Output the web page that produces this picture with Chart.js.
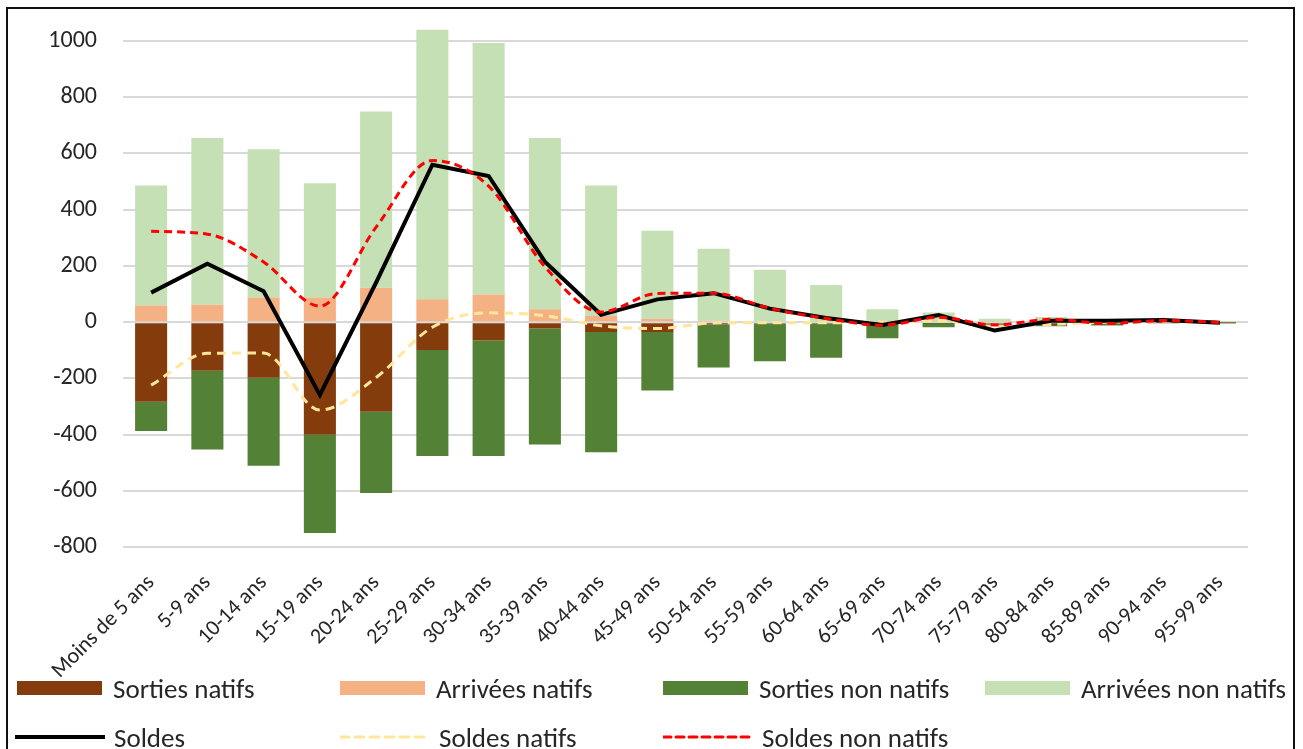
<!DOCTYPE html>
<html>
<head>
<meta charset="utf-8">
<script src="https://cdn.jsdelivr.net/npm/chart.js@4.4.1/dist/chart.umd.min.js"></script>
<style>
  html, body { margin: 0; padding: 0; background: #fff; }
  #wrap { position: relative; width: 1303px; height: 749px; overflow: hidden; font-family: Carlito, Lato, sans-serif; color: #262626; }
  #frame { position: absolute; left: 6px; top: 7px; width: 1289px; height: 800px; border: 2px solid #111; box-sizing: border-box; pointer-events: none; }
  .leg { position: absolute; display: flex; align-items: center; font-size: 27px; height: 30px; white-space: nowrap; }
  .leg .box { width: 85px; height: 14px; margin-right: 11px; }
  .leg svg { margin-right: 9px; }
</style>
</head>
<body>
<div id="wrap">
  <canvas id="myChart" width="1303" height="749"></canvas>
  <div id="legend"></div>
  <div id="frame"></div>
</div>
<script>
// Data
const categories = ["Moins de 5 ans", "5-9 ans", "10-14 ans", "15-19 ans", "20-24 ans", "25-29 ans",
  "30-34 ans", "35-39 ans", "40-44 ans", "45-49 ans", "50-54 ans", "55-59 ans", "60-64 ans",
  "65-69 ans", "70-74 ans", "75-79 ans", "80-84 ans", "85-89 ans", "90-94 ans", "95-99 ans"];

const sortiesNatifs = [-283, -173, -198, -401, -319, -99, -65, -23, -35, -35, -8, -5, -4, -2, -3, -5, -10, -2, -1, -1];
const arriveesNatifs = [59, 62, 88, 88, 122, 81, 98, 46, 22, 12, 5, 3, 2, 2, 2, 2, 3, 1, 1, 0];
const sortiesNonNatifs = [-104, -280, -313, -349, -289, -377, -411, -412, -428, -208, -153, -134, -123, -55, -15, -5, -5, -10, -2, -3];
const arriveesNonNatifs = [427, 593, 527, 406, 627, 959, 895, 609, 464, 313, 256, 183, 130, 44, 32, 10, 15, 5, 8, 2];

const soldes = [105, 208, 110, -259, 141, 560, 520, 215, 26, 81, 103, 48, 15, -10, 25, -30, 5, 5, 8, -2];
const soldesNatifs = [-224, -111, -110, -313, -197, -18, 33, 23, -13, -23, -3, -2, -2, 0, 5, -15, -8, 0, 2, 0];
const soldesNonNatifs = [323, 313, 214, 57, 338, 575, 484, 197, 36, 102, 103, 49, 13, -11, 17, -10, 10, -5, 6, -1];

const yTicks = [-800, -600, -400, -200, 0, 200, 400, 600, 800, 1000];

const colors = {
  sortiesNatifs: "#843C0C",
  arriveesNatifs: "#F4B183",
  sortiesNonNatifs: "#538135",
  arriveesNonNatifs: "#C5E0B4",
  soldes: "#000000",
  soldesNatifs: "#FFE699",
  soldesNonNatifs: "#FF0000"
};

const font = "Carlito, Lato, sans-serif";

function barSet(label, data, color) {
  return {
    type: "bar", label: label, data: data, backgroundColor: color,
    stack: "bars", order: 3, barPercentage: 0.57, categoryPercentage: 1
  };
}

function lineSet(label, data, color, width, dash, smooth, order) {
  return {
    type: "line", label: label, data: data, borderColor: color, borderWidth: width,
    borderDash: dash, tension: smooth ? 0.4 : 0,
    cubicInterpolationMode: smooth ? "monotone" : "default",
    pointRadius: 0, fill: false,
    stack: "l" + label, order: order, borderCapStyle: "butt"
  };
}

const chartCanvas = document.getElementById("myChart");

window.myChart = new Chart(chartCanvas, {
  data: {
    labels: categories,
    datasets: [
      barSet("Sorties natifs", sortiesNatifs, colors.sortiesNatifs),
      barSet("Arrivées natifs", arriveesNatifs, colors.arriveesNatifs),
      barSet("Sorties non natifs", sortiesNonNatifs, colors.sortiesNonNatifs),
      barSet("Arrivées non natifs", arriveesNonNatifs, colors.arriveesNonNatifs),
      lineSet("Soldes", soldes, colors.soldes, 4, [], false, 1),
      lineSet("Soldes natifs", soldesNatifs, colors.soldesNatifs, 3, [9, 6], true, 2),
      lineSet("Soldes non natifs", soldesNonNatifs, colors.soldesNonNatifs, 3, [8, 5], true, 0)
    ]
  },
  options: {
    responsive: false,
    animation: false,
    layout: { padding: { top: 27, left: 0, right: 55, bottom: 62 } },
    plugins: { legend: { display: false }, tooltip: { enabled: false } },
    scales: {
      x: {
        stacked: true,
        grid: { display: false },
        border: { display: false },
        ticks: {
          font: { family: font, size: 22 }, color: "#262626",
          minRotation: 45, maxRotation: 45, padding: 15, autoSkip: false
        },
        afterFit: (s) => { s.height = 140; }
      },
      y: {
        stacked: true,
        min: -800, max: 1050,
        grid: { color: "#D9D9D9", lineWidth: 2, drawTicks: false },
        border: { display: false },
        ticks: {
          font: { family: font, size: 24 }, color: "#262626", padding: 26,
          callback: (v) => String(v)
        },
        afterBuildTicks: (axis) => { axis.ticks = yTicks.map(v => ({ value: v })); },
        // tick padding would otherwise push the plot area down
        afterFit: (s) => { s.width = 123; s.paddingTop = 0; s.paddingBottom = 0; }
      }
    }
  }
});

// Legend drawn as HTML, in the reference's grid
const legendItems = [
  { label: "Sorties natifs", kind: "box", color: colors.sortiesNatifs, x: 17, y: 673 },
  { label: "Arrivées natifs", kind: "box", color: colors.arriveesNatifs, x: 340, y: 673 },
  { label: "Sorties non natifs", kind: "box", color: colors.sortiesNonNatifs, x: 663, y: 673 },
  { label: "Arrivées non natifs", kind: "box", color: colors.arriveesNonNatifs, x: 985, y: 673 },
  { label: "Soldes", kind: "line", color: colors.soldes, dash: "", width: 4, x: 15, y: 722 },
  { label: "Soldes natifs", kind: "line", color: colors.soldesNatifs, dash: "9 6", width: 3, x: 340, y: 722 },
  { label: "Soldes non natifs", kind: "line", color: colors.soldesNonNatifs, dash: "8 5", width: 3, x: 663, y: 722 }
];

const legendDiv = document.getElementById("legend");
legendItems.forEach(item => {
  const el = document.createElement("div");
  el.className = "leg";
  el.style.left = item.x + "px";
  el.style.top = item.y + "px";
  let marker;
  if (item.kind === "box") {
    marker = '<div class="box" style="background:' + item.color + '"></div>';
  } else {
    marker = '<svg width="90" height="14"><line x1="0" y1="7" x2="90" y2="7" stroke="' + item.color +
      '" stroke-width="' + item.width + '" stroke-dasharray="' + item.dash + '" stroke-linecap="round"/></svg>';
  }
  el.innerHTML = marker + "<span>" + item.label + "</span>";
  legendDiv.appendChild(el);
});
</script>
</body>
</html>
